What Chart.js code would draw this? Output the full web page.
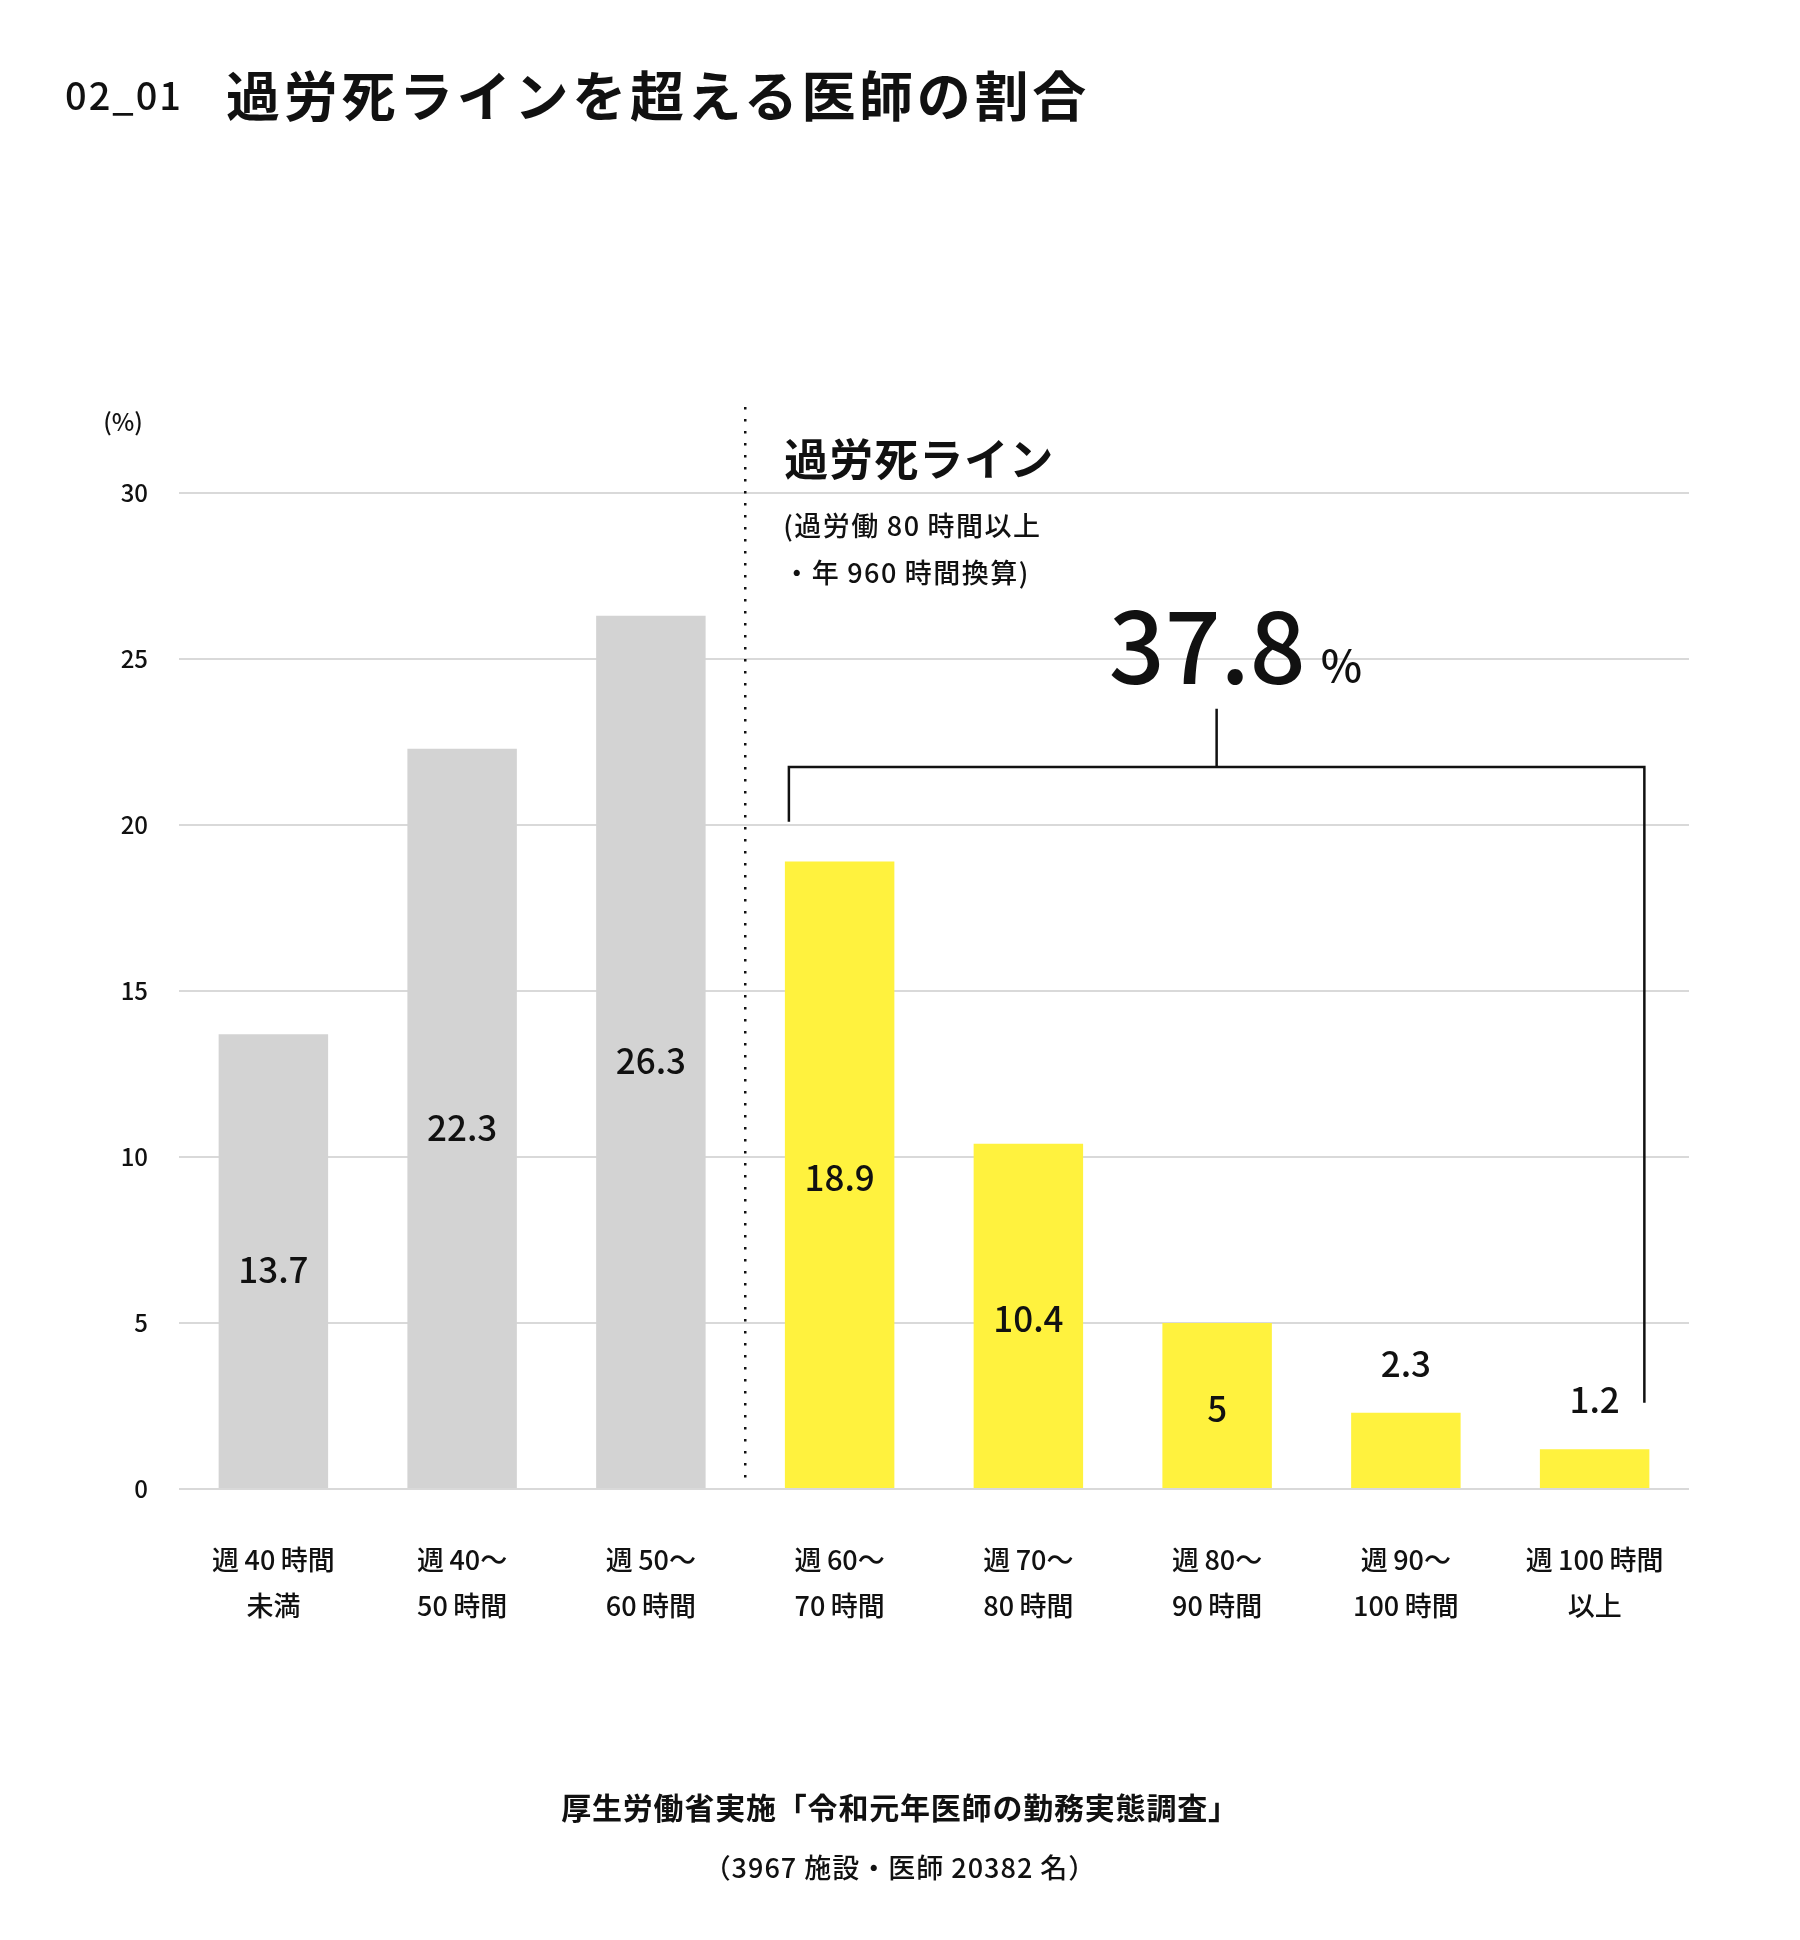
<!DOCTYPE html>
<html lang="ja">
<head>
<meta charset="utf-8">
<script src="https://cdn.jsdelivr.net/npm/chart.js@4.4.1/dist/chart.umd.min.js"></script>
<style>
  body { margin: 0; background: #fff; font-family: "Noto Sans CJK JP", "Noto Sans", sans-serif; color: #111; }
  #wrap { position: relative; width: 1800px; height: 1940px; }
  #chart { position: absolute; left: 0; top: 0; }
  .txt { position: absolute; white-space: nowrap; line-height: 1; }
  #num { left: 65px; top: 75px; font-size: 38px; font-weight: 500; letter-spacing: 2px; }
  #title { left: 226px; top: 67px; font-size: 54px; font-weight: 700; letter-spacing: 3.7px; }
  #src1 { left: 0; width: 1800px; text-align: center; top: 1791px; font-size: 30px; font-weight: 700; letter-spacing: 0.8px; }
  #src2 { left: 0; width: 1800px; text-align: center; top: 1853px; font-size: 27px; font-weight: 500; letter-spacing: 1px; }
</style>
</head>
<body>
<div id="wrap">
  <canvas id="chart" width="1800" height="1940"></canvas>
  <div class="txt" id="num">02_01</div>
  <div class="txt" id="title">過労死ラインを超える医師の割合</div>
  <div class="txt" id="src1">厚生労働省実施「令和元年医師の勤務実態調査」</div>
  <div class="txt" id="src2">（3967 施設・医師 20382 名）</div>
</div>
<script>
// --- DATA ---
const categories = [
    ['週\u200940\u2009時間', '未満'],
    ['週\u200940〜', '50\u2009時間'],
    ['週\u200950〜', '60\u2009時間'],
    ['週\u200960〜', '70\u2009時間'],
    ['週\u200970〜', '80\u2009時間'],
    ['週\u200980〜', '90\u2009時間'],
    ['週\u200990〜', '100\u2009時間'],
    ['週\u2009100\u2009時間', '以上']
];
const shares = [13.7, 22.3, 26.3, 18.9, 10.4, 5, 2.3, 1.2];
const firstOverIndex = 3;          // 週60時間〜 から過労死ライン
const overTotal = '37.8';
const yTicks = [0, 5, 10, 15, 20, 25, 30];
const unitLabel = '(%)';
const lineTitle = '過労死ライン';
const lineNote = ['(過労働\u200980\u2009時間以上', '・年\u2009960\u2009時間換算)'];

const GRAY = '#d3d3d3';
const YELLOW = '#fff23e';
const INK = '#111111';
const FONT = '"Noto Sans CJK JP", "Noto Sans", sans-serif';

// --- ANNOTATIONS PLUGIN ---
const overlay = {
    id: 'overlay',
    afterDatasetsDraw(chart) {
        const { ctx, chartArea } = chart;
        const y = chart.scales.y;
        const bars = chart.getDatasetMeta(0).data;
        const top30 = y.getPixelForValue(30);
        ctx.save();

        // value labels
        ctx.fillStyle = INK;
        ctx.textAlign = 'center';
        ctx.textBaseline = 'middle';
        ctx.font = `500 35px ${FONT}`;
        bars.forEach((bar, i) => {
            const v = shares[i];
            const nudge = i >= firstOverIndex ? 3 : 9;
            const ty = v >= 5 ? (bar.y + bar.base) / 2 + nudge : bar.y - 49;
            ctx.fillText(String(v), bar.x, ty);
        });

        // unit label
        ctx.font = `500 24px ${FONT}`;
        ctx.fillText(unitLabel, 123, top30 - 71);

        // dotted separator
        const sepX = (bars[firstOverIndex - 1].x + bars[firstOverIndex].x) / 2;
        ctx.strokeStyle = INK;
        ctx.lineWidth = 2.5;
        ctx.setLineDash([2.5, 9.5]);
        ctx.beginPath();
        ctx.moveTo(sepX, top30 - 86);
        ctx.lineTo(sepX, chartArea.bottom - 3);
        ctx.stroke();
        ctx.setLineDash([]);

        // line title and note
        ctx.textAlign = 'left';
        ctx.letterSpacing = '1px';
        ctx.font = `700 44px ${FONT}`;
        ctx.fillText(lineTitle, sepX + 39, top30 - 34);
        ctx.letterSpacing = '1.5px';
        ctx.font = `500 27px ${FONT}`;
        ctx.fillText(lineNote[0], sepX + 38, top30 + 33);
        ctx.fillText(lineNote[1], sepX + 38, top30 + 80);
        ctx.letterSpacing = '0px';

        // bracket
        const first = bars[firstOverIndex];
        const last = bars[bars.length - 1];
        const left = first.x - first.width / 2 + 4;
        const right = last.x + last.width / 2 - 5;
        const top = y.getPixelForValue(21.75);
        const stemX = (left + right) / 2;
        ctx.lineWidth = 2.5;
        ctx.beginPath();
        ctx.moveTo(left, y.getPixelForValue(20.1));
        ctx.lineTo(left, top);
        ctx.lineTo(right, top);
        ctx.lineTo(right, y.getPixelForValue(2.6));
        ctx.moveTo(stemX, top);
        ctx.lineTo(stemX, y.getPixelForValue(23.5));
        ctx.stroke();

        // total
        ctx.textBaseline = 'alphabetic';
        ctx.textAlign = 'right';
        ctx.font = `500 98px ${FONT}`;
        ctx.fillText(overTotal, stemX + 89, y.getPixelForValue(24.25));
        ctx.textAlign = 'left';
        ctx.font = `500 44px ${FONT}`;
        ctx.fillText('%', stemX + 104, y.getPixelForValue(24.3));

        ctx.restore();
    }
};

// --- CHART ---
const ctx = document.getElementById('chart').getContext('2d');
new Chart(ctx, {
    type: 'bar',
    data: {
        labels: categories,
        datasets: [{
            data: shares,
            backgroundColor: shares.map((v, i) => i >= firstOverIndex ? YELLOW : GRAY),
            borderWidth: 0,
            barPercentage: 0.58,
            categoryPercentage: 1
        }]
    },
    options: {
        responsive: false,
        animation: false,
        layout: { padding: { top: 493, right: 111, left: 0, bottom: 0 } },
        plugins: { legend: { display: false }, tooltip: { enabled: false } },
        scales: {
            x: {
                grid: { display: false, drawTicks: false },
                border: { display: false },
                ticks: {
                    color: INK, padding: 48, maxRotation: 0, autoSkip: false,
                    font: { family: FONT, size: 27, weight: '500', lineHeight: 1.7 }
                },
                afterFit: s => { s.height = 451; }
            },
            y: {
                min: yTicks[0],
                max: yTicks[yTicks.length - 1],
                afterBuildTicks: s => { s.ticks = yTicks.map(v => ({ value: v })); },
                grid: { color: '#d9d9d9', lineWidth: 2, drawTicks: false },
                border: { display: false },
                ticks: {
                    color: INK, padding: 31,
                    font: { family: FONT, size: 24, weight: '500' }
                },
                afterFit: s => { s.width = 179; }
            }
        }
    },
    plugins: [overlay]
});
</script>
</body>
</html>
